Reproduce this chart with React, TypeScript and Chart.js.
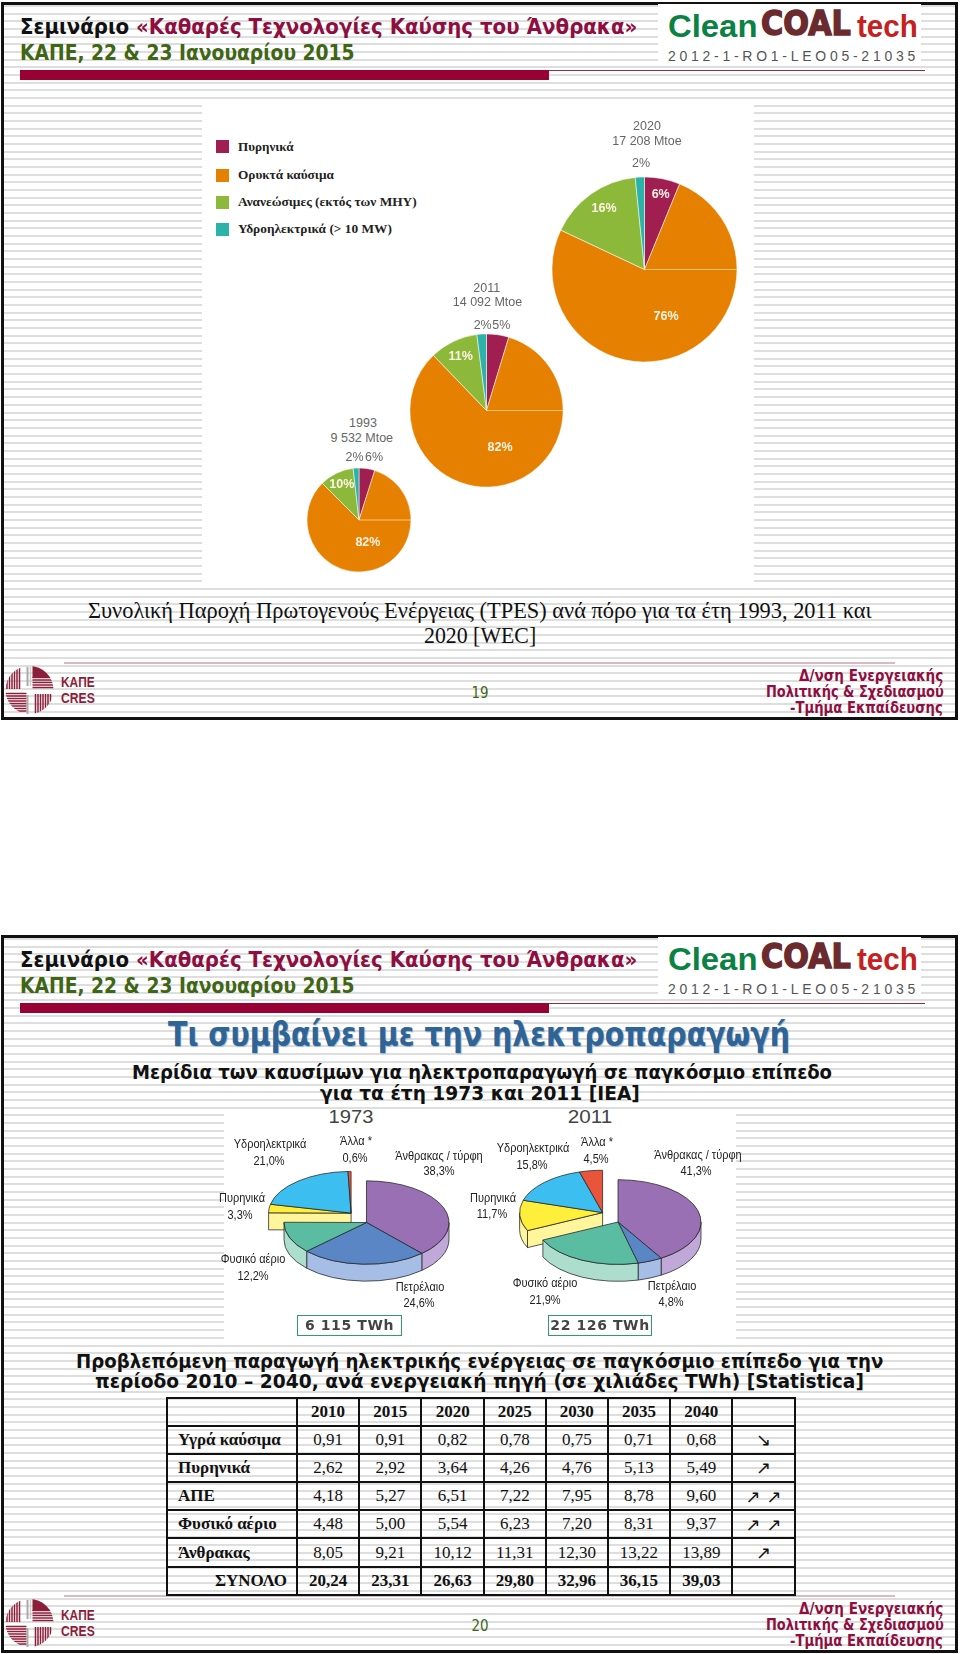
import React, { useEffect, useRef } from "react";
import { Chart, registerables } from "chart.js";

Chart.register(...registerables);

// ---- pie data (drawn shares) ----
const tpesCategories = ["Πυρηνικά", "Ορυκτά καύσιμα", "Ανανεώσιμες (εκτός των ΜΗΥ)", "Υδροηλεκτρικά (> 10 MW)"];
const tpesColors = ["#A01F50", "#E68000", "#8DB93B", "#2CB3A9"];
const tpes1993 = [4.9, 82.6, 10.7, 1.8];
const tpes2011 = [4.7, 83.1, 10.2, 2.0];
const tpes2020 = [6.2, 75.8, 16.4, 1.6];

// order: left (pulled-out) group first, then right group, clockwise
const fuelNames = ["Πυρηνικά", "Υδροηλεκτρικά", "Άλλα *", "Άνθρακας / τύρφη", "Πετρέλαιο", "Φυσικό αέριο"];
const fuelTop = ["#FFEF3A", "#3DBEF0", "#E8553A", "#9A70B4", "#5A86C6", "#5ABDA2"];
const fuelSide = ["#FFF59B", "#A6DDF6", "#F2A592", "#C0A8D8", "#A6BEE6", "#ACDDCD"];
const elec1973 = [3.3, 21.0, 0.6, 38.3, 24.6, 12.2];
const elec2011 = [11.7, 15.8, 4.5, 41.3, 4.8, 21.9];

// ---- table data ----
const tableYears = ["2010", "2015", "2020", "2025", "2030", "2035", "2040"];
const liquidFuels = ["0,91", "0,91", "0,82", "0,78", "0,75", "0,71", "0,68"];
const nuclear = ["2,62", "2,92", "3,64", "4,26", "4,76", "5,13", "5,49"];
const renewables = ["4,18", "5,27", "6,51", "7,22", "7,95", "8,78", "9,60"];
const naturalGas = ["4,48", "5,00", "5,54", "6,23", "7,20", "8,31", "9,37"];
const coal = ["8,05", "9,21", "10,12", "11,31", "12,30", "13,22", "13,89"];
const totals = ["20,24", "23,31", "26,63", "29,80", "32,96", "36,15", "39,03"];

const SERIF = "'Liberation Serif', serif";
const SANS = "'Liberation Sans', sans-serif";
const DJV = "'DejaVu Sans', sans-serif";
const CRIMSON = "#8E0F3F";
const OLIVE = "#3F6614";

type TP = {
  x: number; y: number; w?: number; c?: boolean; size: number; font?: string; weight?: any;
  color?: string; style?: any; children: any;
};
function T({ x, y, w, c, size, font = SANS, weight = 400, color = "#111", style, children }: TP) {
  const base = c ? "translate(-50%,-50%)" : "translate(0,-50%)";
  return (
    <div
      ref={(el) => {
        if (el && w) el.style.transform = `${base} scaleX(${w / el.offsetWidth})`;
      }}
      style={{
        position: "absolute", left: x, top: y, transform: base,
        transformOrigin: c ? "center center" : "left center", whiteSpace: "nowrap",
        fontFamily: font, fontSize: size, fontWeight: weight, color, lineHeight: 1.1, ...style,
      }}
    >
      {children}
    </div>
  );
}

function Box({ x, y, w, h, style }: any) {
  return <div style={{ position: "absolute", left: x, top: y, width: w, height: h, ...style }} />;
}

const seamPlugin = {
  id: "seam",
  afterDatasetsDraw(chart: any) {
    const a = chart.getDatasetMeta(0).data[0];
    const ctx = chart.ctx;
    ctx.save();
    ctx.strokeStyle = "rgba(255,225,180,0.85)";
    ctx.lineWidth = 0.8;
    ctx.beginPath();
    ctx.moveTo(a.x, a.y);
    ctx.lineTo(a.x + a.outerRadius, a.y);
    ctx.stroke();
    ctx.restore();
  },
};

function FlatPie({ cx, cy, r, values }: { cx: number; cy: number; r: number; values: number[] }) {
  const ref = useRef<HTMLCanvasElement>(null);
  useEffect(() => {
    const chart = new Chart(ref.current!, {
      type: "pie",
      data: {
        labels: tpesCategories,
        datasets: [{ data: values, backgroundColor: tpesColors, borderColor: "rgba(255,255,255,0.65)", borderWidth: 0.8, radius: r } as any],
      },
      options: {
        animation: false, responsive: false, devicePixelRatio: 1,
        plugins: { legend: { display: false }, tooltip: { enabled: false } },
      },
      plugins: [seamPlugin],
    });
    return () => chart.destroy();
  }, []);
  const S = 2 * r + 8;
  return <canvas ref={ref} width={S} height={S} style={{ position: "absolute", left: cx - S / 2, top: cy - S / 2 }} />;
}

function pie3d(splitAt: number, shift: [number, number], k: number, depth: number) {
  return {
    id: "pie3d",
    beforeDatasetsDraw(chart: any) {
      const arcs = chart.getDatasetMeta(0).data;
      const ctx = chart.ctx;
      const TAU = Math.PI * 2;
      const D = depth / k;
      const side = (a: any, i: number) => {
        const s = ((a.startAngle % TAU) + TAU) % TAU;
        const e = s + (a.endAngle - a.startAngle);
        for (const f of [0, TAU]) {
          const lo = Math.max(s, f);
          const hi = Math.min(e, f + Math.PI);
          if (hi <= lo) continue;
          ctx.beginPath();
          ctx.arc(a.x, a.y, a.outerRadius, lo, hi);
          ctx.arc(a.x, a.y + D, a.outerRadius, hi, lo, true);
          ctx.closePath();
          ctx.fillStyle = fuelSide[i];
          ctx.fill();
          ctx.strokeStyle = "#222";
          ctx.lineWidth = 1;
          ctx.stroke();
        }
      };
      const cutFace = (a: any, i: number) => {
        const rx = a.x + Math.cos(a.startAngle) * a.outerRadius;
        const ry = a.y + Math.sin(a.startAngle) * a.outerRadius;
        ctx.beginPath();
        ctx.moveTo(a.x, a.y);
        ctx.lineTo(rx, ry);
        ctx.lineTo(rx, ry + D);
        ctx.lineTo(a.x, a.y + D);
        ctx.closePath();
        ctx.fillStyle = fuelSide[i];
        ctx.fill();
        ctx.strokeStyle = "#222";
        ctx.lineWidth = 1;
        ctx.stroke();
      };
      const cx = arcs[0].x;
      const cy = arcs[0].y;
      const group = (from: number, to: number, dx: number, dy: number, withCut: boolean) => {
        ctx.save();
        ctx.translate(cx + dx, cy + dy);
        ctx.scale(1, k);
        ctx.translate(-cx, -cy);
        if (withCut) cutFace(arcs[from], from);
        for (let i = from; i < to; i++) side(arcs[i], i);
        for (let i = from; i < to; i++) arcs[i].draw(ctx);
        ctx.restore();
      };
      group(0, splitAt, shift[0], shift[1], true);
      group(splitAt, arcs.length, 0, 0, false);
      return false;
    },
  };
}

function Pie3D({ cx, cy, r, values, rotation, k }: any) {
  const ref = useRef<HTMLCanvasElement>(null);
  useEffect(() => {
    const chart = new Chart(ref.current!, {
      type: "pie",
      data: {
        labels: fuelNames,
        datasets: [{ data: values, backgroundColor: fuelTop, borderColor: "#222", borderWidth: 1, radius: r } as any],
      },
      options: {
        animation: false, responsive: false, devicePixelRatio: 1, rotation,
        plugins: { legend: { display: false }, tooltip: { enabled: false } },
      },
      plugins: [pie3d(3, [-15.4, -9.4], k, 17)],
    });
    return () => chart.destroy();
  }, []);
  const S = 2 * r + 70;
  return <canvas ref={ref} width={S} height={S} style={{ position: "absolute", left: cx - S / 2, top: cy - S / 2 }} />;
}

function CresLogo({ dy }: { dy: number }) {
  const col = "#8B1F3A";
  const cx = 29.5, cy = 690;
  const vL = [8, 10.5, 13, 15.5, 18, 20.5, 23];
  const hL = [2.5, 5, 7.5, 10, 12.5, 15, 17.5, 20];
  return (
    <svg width={60} height={60} viewBox={`0 660 60 60`} style={{ position: "absolute", left: 0, top: 660 + dy }}>
      <defs>
        <clipPath id={`cc${dy}`}><circle cx={cx} cy={cy} r={24} /></clipPath>
      </defs>
      <g clipPath={`url(#cc${dy})`} stroke={col} fill={col}>
        {vL.map((d) => <line key={"a" + d} x1={cx - d - 2} x2={cx - d - 2} y1={cy - 24} y2={cy - 1} strokeWidth={1.5} />)}
        <rect x={cx + 3} y={cy - 24} width={22} height={12} stroke="none" />
        {hL.slice(0, 5).map((d) => <line key={"b" + d} x1={cx + 3} x2={cx + 26} y1={cy - d} y2={cy - d} strokeWidth={1.4} />)}
        {hL.map((d) => <line key={"c" + d} x1={cx - 25} x2={cx - 3} y1={cy + d + 1} y2={cy + d + 1} strokeWidth={1.4} />)}
        {vL.map((d) => <line key={"d" + d} x1={cx + d - 2} x2={cx + d - 2} y1={cy + 4} y2={cy + 25} strokeWidth={1.5} />)}
      </g>
      <line x1={cx - 2} x2={cx - 2} y1={667} y2={686} stroke="#aaa" strokeWidth={2} />
      <line x1={cx + 1} x2={cx + 1} y1={667} y2={686} stroke="#ccc" strokeWidth={1.5} />
      <line x1={cx - 2} x2={cx - 2} y1={695} y2={714} stroke="#aaa" strokeWidth={2} />
    </svg>
  );
}

function Frame({ top, bottom }: { top: number; bottom: number }) {
  return (
    <div
      style={{
        position: "absolute", left: 1, top, width: 957, height: bottom - top, boxSizing: "border-box",
        border: "3px solid #111",
        background: "repeating-linear-gradient(to bottom, #DEDEDE 0, #DEDEDE 2px, #FFF 2px, #FFF 7.67px)",
      }}
    />
  );
}

function Header({ dy }: { dy: number }) {
  return (
    <>
      <Box x={658} y={4 + dy} w={263} h={62} style={{ background: "#fff" }} />
      <T x={20} y={27 + dy} w={617} size={22} font={DJV} weight={700} color={CRIMSON}>
        <span style={{ color: "#111" }}>Σεμινάριο </span>«Καθαρές Τεχνολογίες Καύσης του Άνθρακα»
      </T>
      <T x={20} y={54 + dy} w={335} size={21} font={DJV} weight={700} color={OLIVE}>ΚΑΠΕ, 22 &amp; 23 Ιανουαρίου 2015</T>
      <T x={668} y={27 + dy} w={89} size={31} weight={700} color="#0B8144">Clean</T>
      <T x={761} y={24 + dy} w={90} size={34} font={DJV} weight={700} color="#6A2A2E" style={{ WebkitTextStroke: "1.5px #6A2A2E" }}>COAL</T>
      <T x={857} y={27 + dy} w={61} size={31} weight={700} color="#C4211F">tech</T>
      <T x={668} y={56 + dy} w={251} size={15} color="#555" style={{ letterSpacing: 4 }}>2012-1-RO1-LEO05-21035</T>
      <Box x={20} y={70 + dy} w={529} h={9.5} style={{ background: "#990033" }} />
      <Box x={549} y={70 + dy} w={376} h={1} style={{ background: "#8E3040" }} />
    </>
  );
}

function Footer({ dy, page }: { dy: number; page: string }) {
  return (
    <>
      <Box x={64} y={662 + dy} w={831} h={1.5} style={{ background: "#D9B9C3" }} />
      <CresLogo dy={dy} />
      <T x={61} y={682 + dy} w={34} size={15} weight={700} color="#8B1F3A">ΚΑΠΕ</T>
      <T x={61} y={698 + dy} w={34} size={15} weight={700} color="#8B1F3A">CRES</T>
      <T x={480} y={692.5 + dy} c size={15} w={17} font={DJV} color={OLIVE}>{page}</T>
      <T x={799} y={676 + dy} w={144} size={15} font={DJV} weight={700} color={CRIMSON}>Δ/νση Ενεργειακής</T>
      <T x={765.5} y={691.7 + dy} w={177.5} size={15} font={DJV} weight={700} color={CRIMSON}>Πολιτικής &amp; Σχεδιασμού</T>
      <T x={790} y={707.7 + dy} w={153} size={15} font={DJV} weight={700} color={CRIMSON}>-Τμήμα Εκπαίδευσης</T>
    </>
  );
}

function L({ x, y, t }: { x: number; y: number; t: string }) {
  return <T x={x} y={y} c size={12.5} color="#222"><span style={{ display: "inline-block", transform: "scaleX(0.88)" }}>{t}</span></T>;
}

function PieText({ x, y, t, white }: { x: number; y: number; t: string; white?: boolean }) {
  return <T x={x} y={y} c size={12.5} weight={white ? 700 : 400} color={white ? "#FFF4E6" : "#666"}>{t}</T>;
}

const tableRows: [string, string[], string][] = [
  ["Υγρά καύσιμα", liquidFuels, "↘"],
  ["Πυρηνικά", nuclear, "↗"],
  ["ΑΠΕ", renewables, "↗ ↗"],
  ["Φυσικό αέριο", naturalGas, "↗ ↗"],
  ["Άνθρακας", coal, "↗"],
];

function EnergyTable() {
  const td: any = {
    border: "2px solid #111", textAlign: "center", padding: 0, fontFamily: SERIF, fontSize: 17, color: "#111", height: 28.2, boxSizing: "border-box",
  };
  const colW = [130, 62.2, 62.3, 62.3, 62, 62, 62.4, 62.2, 62.4];
  return (
    <table
      style={{
        position: "absolute", left: 166, top: 1396.5, width: 628, height: 197.5, borderCollapse: "collapse", tableLayout: "fixed",
      }}
    >
      <colgroup>{colW.map((w, i) => <col key={i} style={{ width: w }} />)}</colgroup>
      <tbody>
        <tr>
          <td style={td} />
          {tableYears.map((y) => <td key={y} style={{ ...td, fontWeight: 700 }}>{y}</td>)}
          <td style={td} />
        </tr>
        {tableRows.map(([name, vals, arrow]) => (
          <tr key={name}>
            <td style={{ ...td, fontWeight: 700, textAlign: "left", paddingLeft: 10 }}>{name}</td>
            {vals.map((v, i) => <td key={i} style={td}>{v}</td>)}
            <td style={{ ...td, fontFamily: DJV, fontSize: 18, fontWeight: 400 }}>{arrow}</td>
          </tr>
        ))}
        <tr>
          <td style={{ ...td, fontWeight: 700, textAlign: "right", paddingRight: 9 }}>ΣΥΝΟΛΟ</td>
          {totals.map((v, i) => <td key={i} style={{ ...td, fontWeight: 700 }}>{v}</td>)}
          <td style={td} />
        </tr>
      </tbody>
    </table>
  );
}

export default function App() {
  useEffect(() => {
    document.body.style.margin = "0";
  }, []);
  const D2 = 933;
  const legendY = [146.7, 175, 202.3, 229];
  const legendW = [55.4, 95.7, 178.6, 154];
  return (
    <div style={{ position: "absolute", left: 0, top: 0, width: 960, height: 1654, overflow: "hidden", background: "#fff" }}>
      <Frame top={2} bottom={720} />
      <Frame top={935} bottom={1653} />

      {/* slide 19 */}
      <Box x={202} y={102} w={552} h={486} style={{ background: "#fff" }} />
      <Header dy={0} />
      {tpesCategories.map((c, i) => (
        <React.Fragment key={c}>
          <Box x={216} y={legendY[i] - 6.5} w={13} h={13} style={{ background: tpesColors[i] }} />
          <T x={237.5} y={legendY[i]} w={legendW[i]} size={13} font={SERIF} weight={700} color="#222">{c}</T>
        </React.Fragment>
      ))}
      <FlatPie cx={358.6} cy={520.3} r={52} values={tpes1993} />
      <FlatPie cx={486.8} cy={410.7} r={76.6} values={tpes2011} />
      <FlatPie cx={644} cy={269} r={92.5} values={tpes2020} />
      <PieText x={647} y={127.3} t="2020" />
      <PieText x={647} y={141.7} t="17 208 Mtoe" />
      <PieText x={641} y={164.3} t="2%" />
      <PieText x={660.7} y={195} t="6%" white />
      <PieText x={604} y={209} t="16%" white />
      <PieText x={666} y={316.7} t="76%" white />
      <PieText x={486.8} y={289} t="2011" />
      <PieText x={487.5} y={303.3} t="14 092 Mtoe" />
      <PieText x={482.7} y={325.7} t="2%" />
      <PieText x={501.4} y={325.7} t="5%" />
      <PieText x={460.7} y={357.3} t="11%" white />
      <PieText x={500} y={447.7} t="82%" white />
      <PieText x={363} y={424.3} t="1993" />
      <PieText x={361.8} y={438.7} t="9 532 Mtoe" />
      <PieText x={354.6} y={458.3} t="2%" />
      <PieText x={374} y={458.3} t="6%" />
      <PieText x={341.8} y={485} t="10%" white />
      <PieText x={367.9} y={542.7} t="82%" white />
      <T x={87.6} y={610.7} w={783.4} size={23} font={SERIF}>Συνολική Παροχή Πρωτογενούς Ενέργειας (TPES) ανά πόρο για τα έτη 1993, 2011 και</T>
      <T x={424} y={636} w={112} size={23} font={SERIF}>2020 [WEC]</T>
      <Footer dy={0} page="19" />

      {/* slide 20 */}
      <Box x={223.5} y={1110} w={512} h={230} style={{ background: "#fff" }} />
      <Header dy={D2} />
      <T x={168} y={1035} w={622} size={33} font={DJV} weight={700} color="#2F6496" style={{ textShadow: "1px 1px 1px #9DB6CF" }}>Τι συμβαίνει με την ηλεκτροπαραγωγή</T>
      <T x={131.7} y={1071.7} w={700} size={20} font={DJV} weight={700}>Μερίδια των καυσίμων για ηλεκτροπαραγωγή σε παγκόσμιο επίπεδο</T>
      <T x={319.7} y={1093} w={320.3} size={20} font={DJV} weight={700}>για τα έτη 1973 και 2011 [IEA]</T>

      <T x={351} y={1116.7} c w={44.6} size={19} color="#444">1973</T>
      <T x={590} y={1116.7} c w={44.6} size={19} color="#444">2011</T>
      <Pie3D cx={366.8} cy={1222.7} r={82.5} values={elec1973} rotation={270.36} k={0.505} />
      <Pie3D cx={617.9} cy={1222.3} r={83} values={elec2011} rotation={244.8} k={0.51} />

      <L x={269.6} y={1145} t="Υδροηλεκτρικά" />
      <L x={269} y={1161.7} t="21,0%" />
      <L x={356.4} y={1141.7} t="Άλλα *" />
      <L x={355.4} y={1159} t="0,6%" />
      <L x={439.3} y={1156.7} t="Άνθρακας / τύρφη" />
      <L x={438.6} y={1172.3} t="38,3%" />
      <L x={242} y={1199} t="Πυρηνικά" />
      <L x={240.4} y={1215.7} t="3,3%" />
      <L x={252.9} y={1260} t="Φυσικό αέριο" />
      <L x={252.9} y={1276.7} t="12,2%" />
      <L x={419.6} y={1287.7} t="Πετρέλαιο" />
      <L x={418.6} y={1304} t="24,6%" />
      <L x={533.2} y={1149} t="Υδροηλεκτρικά" />
      <L x={532} y={1166} t="15,8%" />
      <L x={597} y={1143.3} t="Άλλα *" />
      <L x={596.4} y={1160} t="4,5%" />
      <L x={698.2} y={1155.7} t="Άνθρακας / τύρφη" />
      <L x={696.4} y={1171.7} t="41,3%" />
      <L x={492.9} y={1199} t="Πυρηνικά" />
      <L x={492} y={1215} t="11,7%" />
      <L x={545.4} y={1284.3} t="Φυσικό αέριο" />
      <L x={544.6} y={1301.3} t="21,9%" />
      <L x={672} y={1286.7} t="Πετρέλαιο" />
      <L x={671.4} y={1303.3} t="4,8%" />

      <Box x={297} y={1315} w={105} h={20.5} style={{ border: "1.5px solid #2E9C6E", boxSizing: "border-box" }} />
      <Box x={548} y={1315} w={104} h={20.5} style={{ border: "1.5px solid #2E9C6E", boxSizing: "border-box" }} />
      <T x={349.5} y={1325.5} c size={14} font={DJV} weight={700} color="#444" style={{ letterSpacing: 0.6 }}>6 115 TWh</T>
      <T x={600} y={1325.5} c size={14} font={DJV} weight={700} color="#444" style={{ letterSpacing: 0.6 }}>22 126 TWh</T>

      <T x={76} y={1360.5} w={807} size={19} font={DJV} weight={700}>Προβλεπόμενη παραγωγή ηλεκτρικής ενέργειας σε παγκόσμιο επίπεδο για την</T>
      <T x={95} y={1380.5} w={769} size={19} font={DJV} weight={700}>περίοδο 2010 – 2040, ανά ενεργειακή πηγή (σε χιλιάδες TWh) [Statistica]</T>
      <Footer dy={D2} page="20" />
      <EnergyTable />
    </div>
  );
}
